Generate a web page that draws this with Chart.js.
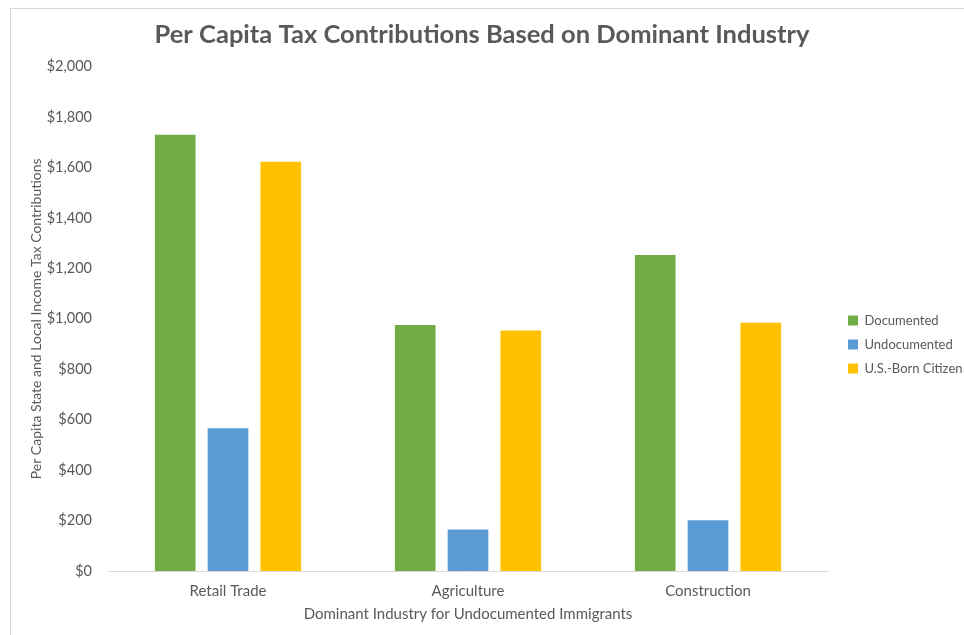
<!DOCTYPE html>
<html>
<head>
<meta charset="utf-8">
<script src="https://cdn.jsdelivr.net/npm/chart.js@4"></script>
<style>
    html, body { margin: 0; padding: 0; background: #fff; }
    #frame {
        position: absolute; left: 10px; top: 8px; width: 1000px; height: 700px;
        border-top: 1px solid #d9d9d9; border-left: 1px solid #d9d9d9;
    }
    #wrap { position: absolute; left: 0; top: 0; width: 964px; height: 635px; }
</style>
</head>
<body>
<div id="frame"></div>
<div id="wrap"><canvas id="taxChart"></canvas></div>
<script>
// 차트 데이터
const industries = ['Retail Trade', 'Agriculture', 'Construction'];
const documented = [1730, 975, 1253];
const undocumented = [566, 165, 201];
const usBorn = [1623, 954, 984];
const yTicks = [0, 200, 400, 600, 800, 1000, 1200, 1400, 1600, 1800, 2000];

const FONT = "Lato, 'Open Sans', sans-serif";
const GREY = '#595959';

const ctx = document.getElementById('taxChart');

new Chart(ctx, {
    type: 'bar',
    data: {
        labels: industries,
        datasets: [
            { label: 'Documented', data: documented, backgroundColor: '#70ad47' },
            { label: 'Undocumented', data: undocumented, backgroundColor: '#5b9bd5' },
            { label: 'U.S.-Born Citizen', data: usBorn, backgroundColor: '#ffc000' }
        ]
    },
    options: {
        responsive: true,
        maintainAspectRatio: false,
        animation: false,
        categoryPercentage: 0.66,
        barPercentage: 0.77,
        layout: { padding: 0 },
        plugins: {
            title: {
                display: true,
                text: 'Per Capita Tax Contributions Based on Dominant Industry',
                color: GREY,
                font: { family: FONT, size: 25.5, weight: 'bold', lineHeight: 1.2 },
                padding: { top: 19, bottom: 17 }
            },
            legend: {
                position: 'right',
                maxWidth: 127,
                title: {
                    display: true,
                    text: ' ',
                    font: { size: 10, lineHeight: 1.2 },
                    padding: { top: 42, bottom: 0 }
                },
                labels: {
                    color: GREY,
                    font: { family: FONT, size: 13 },
                    boxWidth: 10,
                    boxHeight: 10,
                    padding: 11
                }
            },
            tooltip: { enabled: false }
        },
        scales: {
            x: {
                grid: { display: false, drawTicks: false },
                border: { display: true, color: '#d9d9d9', width: 1 },
                ticks: { color: GREY, font: { family: FONT, size: 15 }, padding: 11 },
                title: {
                    display: true,
                    text: 'Dominant Industry for Undocumented Immigrants',
                    color: GREY,
                    font: { family: FONT, size: 15, lineHeight: 1.2 },
                    padding: { top: 4, bottom: 12 }
                },
                afterFit(scale) { scale.height = 64; }
            },
            y: {
                min: 0,
                max: 2000,
                afterBuildTicks(scale) { scale.ticks = yTicks.map(v => ({ value: v })); },
                grid: { display: false, drawTicks: false },
                border: { display: false },
                ticks: {
                    color: GREY,
                    font: { family: FONT, size: 14.5 },
                    padding: 16,
                    callback: v => '$' + v.toLocaleString('en-US')
                },
                title: {
                    display: true,
                    text: 'Per Capita State and Local Income Tax Contributions',
                    color: GREY,
                    font: { family: FONT, size: 14, lineHeight: 1.2 },
                    padding: { top: 28, bottom: 0 }
                },
                afterFit(scale) { scale.width = 108; }
            },
            // 범례와 그림 영역 사이 여백용 보이지 않는 축
            spacer: {
                type: 'linear',
                position: 'right',
                grid: { display: false, drawTicks: false },
                border: { display: false },
                ticks: { display: false },
                afterFit(scale) { scale.width = 9; }
            }
        }
    }
});
</script>
</body>
</html>
